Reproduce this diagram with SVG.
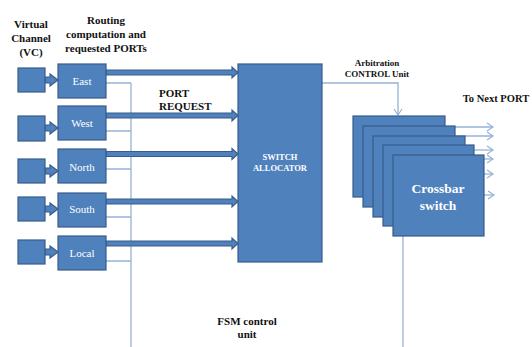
<svg xmlns="http://www.w3.org/2000/svg" width="532" height="347" viewBox="0 0 532 347">
<defs>
<style>
.box{fill:#4F81BD;stroke:#385D8A;stroke-width:1.2}
.thin{fill:none;stroke:#95B3D7;stroke-width:1.3}
text{font-family:"Liberation Serif","Times New Roman","DejaVu Serif",serif}
.lbl{font-weight:bold;fill:#111}
.wt{fill:#fff}
</style>
<marker id="open" markerWidth="10" markerHeight="10" refX="8" refY="5" orient="auto" markerUnits="userSpaceOnUse">
<path d="M2,1 L8,5 L2,9" fill="none" stroke="#95B3D7" stroke-width="1.2"/>
</marker>
<path id="big" d="M0,-2.5 L126,-2.5 L126,-5.5 L132,0 L126,5.5 L126,2.5 L0,2.5 Z"/>
<path id="small" d="M0,-3 L5,-3 L5,-6 L13,0 L5,6 L5,3 L0,3 Z"/>
</defs>
<rect width="532" height="347" fill="#fff"/>

<g id="labels" class="lbl" font-size="11" text-anchor="middle">
<text x="31" y="28">Virtual</text>
<text x="31" y="42">Channel</text>
<text x="31" y="56">(VC)</text>
<text x="106" y="24">Routing</text>
<text x="106" y="38">computation and</text>
<text x="106" y="52">requested PORTs</text>
<text x="159" y="97" text-anchor="start">PORT</text>
<text x="159" y="110" text-anchor="start">REQUEST</text>
<text x="377" y="66" font-size="9">Arbitration</text>
<text x="377" y="77" font-size="9">CONTROL Unit</text>
<text x="496" y="102" font-size="10.5">To Next PORT</text>
<text x="247" y="325">FSM control</text>
<text x="247" y="338">unit</text>
</g>

<g id="connectors">
<path class="thin" d="M106,83 H131 M106,131 H131 M106,169 H131 M106,217 H131 M106,261 H131 M131,83 V347"/>
<path class="thin" d="M322,83 H398 V115" marker-end="url(#open)"/>
<path class="thin" d="M403,236 V347"/>
<g class="thin" marker-end="url(#open)">
<path d="M445,127 H493"/>
<path d="M455,136 H493"/>
<path d="M465,150 H493"/>
<path d="M474,159 H493"/>
<path d="M484,174 H493"/>
<path d="M484,195 H494"/>
</g>
<g class="box">
<use href="#big" transform="translate(106,72.5)"/>
<use href="#big" transform="translate(106,115.5)"/>
<use href="#big" transform="translate(106,154)"/>
<use href="#big" transform="translate(106,201.5)"/>
<use href="#big" transform="translate(106,243.5)"/>
<use href="#small" transform="translate(45,80)"/>
<use href="#small" transform="translate(45,128)"/>
<use href="#small" transform="translate(45,171)"/>
<use href="#small" transform="translate(45,209)"/>
<use href="#small" transform="translate(45,252)"/>
</g>
</g>

<g id="vc-east"><rect class="box" x="18" y="68" width="27" height="24"/></g>
<g id="vc-west"><rect class="box" x="18" y="116" width="27" height="25"/></g>
<g id="vc-north"><rect class="box" x="18" y="159" width="27" height="24"/></g>
<g id="vc-south"><rect class="box" x="18" y="197" width="27" height="24"/></g>
<g id="vc-local"><rect class="box" x="18" y="240" width="27" height="24"/></g>

<g class="wt" font-size="11" text-anchor="middle">
<g id="east"><rect class="box" x="58" y="64" width="48" height="34"/><text x="82" y="85">East</text></g>
<g id="west"><rect class="box" x="58" y="106" width="48" height="34"/><text x="82" y="127">West</text></g>
<g id="north"><rect class="box" x="58" y="149" width="48" height="34"/><text x="82" y="171">North</text></g>
<g id="south"><rect class="box" x="58" y="193" width="48" height="34"/><text x="82" y="213">South</text></g>
<g id="local"><rect class="box" x="58" y="236" width="48" height="34"/><text x="82" y="257">Local</text></g>

<g id="switch-allocator">
<rect class="box" x="238" y="64" width="84" height="198"/>
<text x="280" y="160" font-size="8.5" font-weight="bold">SWITCH</text>
<text x="280" y="171" font-size="8.5" font-weight="bold">ALLOCATOR</text>
</g>

<g id="crossbar">
<rect class="box" x="353" y="116" width="92" height="81"/>
<rect class="box" x="363" y="126" width="92" height="81"/>
<rect class="box" x="373" y="136" width="92" height="81"/>
<rect class="box" x="383" y="145" width="91" height="81"/>
<rect class="box" x="393" y="155" width="91" height="81"/>
<text x="438" y="193" font-size="13.5" font-weight="bold">Crossbar</text>
<text x="438" y="210" font-size="13.5" font-weight="bold">switch</text>
</g>
</g>
</svg>
